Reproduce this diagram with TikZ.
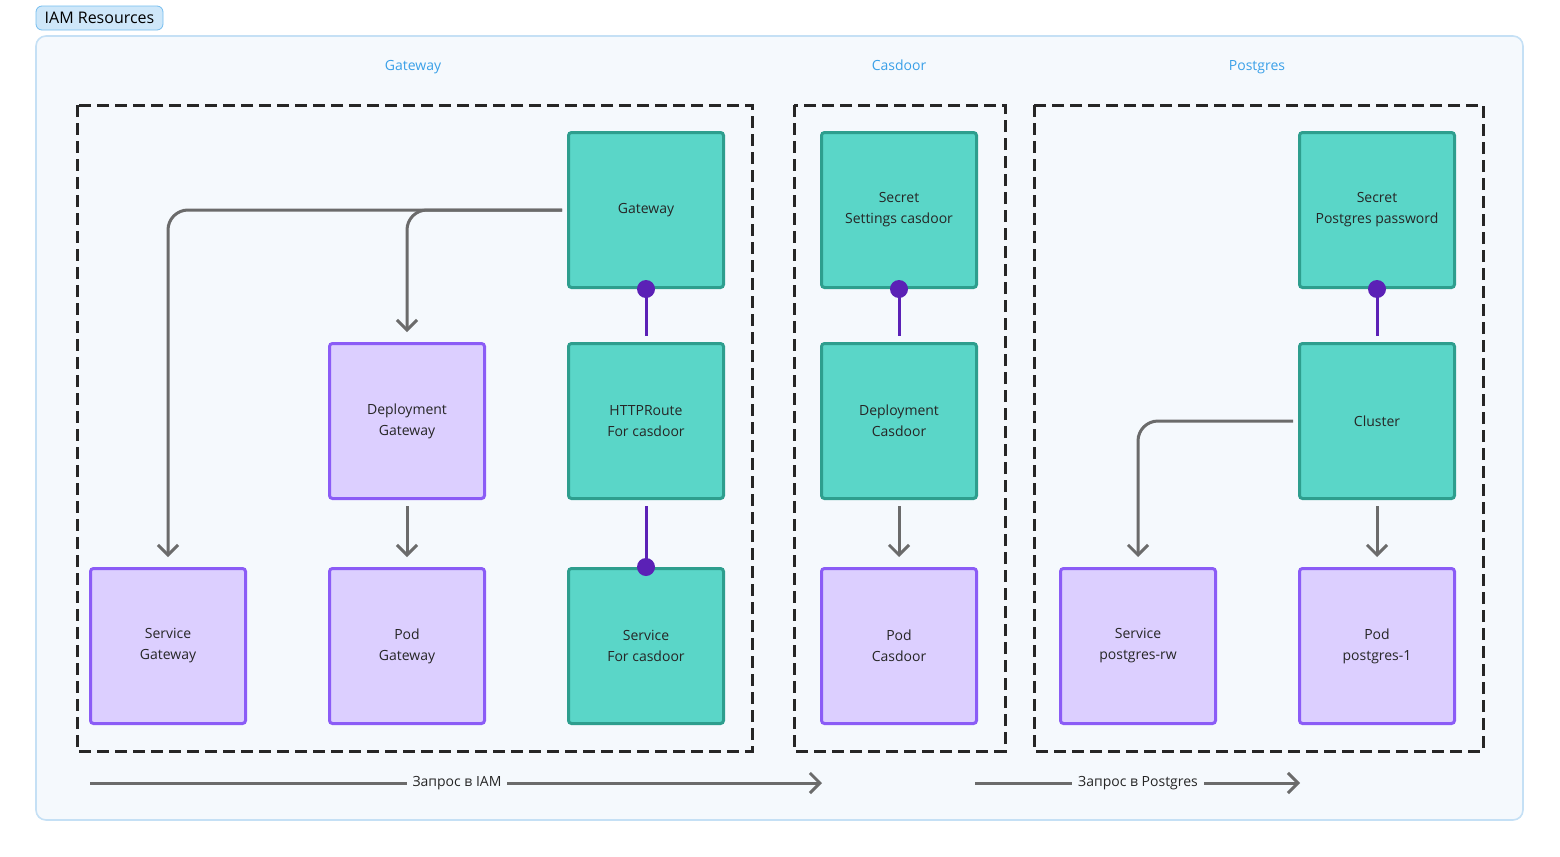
\documentclass[tikz,border=0pt]{standalone}
\usepackage{fontspec}
\setmainfont{Open Sans}
\usetikzlibrary{arrows.meta}
\definecolor{tealf}{HTML}{5AD6C8}
\definecolor{teald}{HTML}{2E9E8E}
\definecolor{purf}{HTML}{DCCFFF}
\definecolor{purd}{HTML}{8B5CF6}
\definecolor{conn}{HTML}{6B6B6B}
\definecolor{dotc}{HTML}{5B21B6}
\definecolor{bluet}{HTML}{3AA0E8}
\definecolor{bgc}{HTML}{F5F9FD}
\definecolor{bgb}{HTML}{C5E0F5}
\begin{document}
\begin{tikzpicture}[x=0.5pt,y=-0.5pt,
 box/.style={minimum width=77.5pt,minimum height=77.5pt,line width=1.5pt,rounded corners=1.5pt,align=center,font=\fontsize{7}{10.5}\selectfont,text=black!85},
 teal/.style={box,fill=tealf,draw=teald},
 pur/.style={box,fill=purf,draw=purd},
 arr/.style={draw=conn,line width=1.5pt,-{Straight Barb[length=5pt,width=10pt,line width=1.5pt]},rounded corners=10pt},
 lnk/.style={draw=dotc,line width=1.5pt},
 dt/.style={circle,fill=dotc,inner sep=0pt,minimum size=9pt},
 grp/.style={draw=black!85,line width=1.5pt,dash pattern=on 6pt off 3pt},
 gt/.style={text=bluet,font=\fontsize{7}{8}\selectfont,anchor=base},
 lb/.style={font=\fontsize{7}{8}\selectfont,fill=bgc,inner sep=3pt,text=black!85}]
\useasboundingbox (0,0) rectangle (1560,857);
\node[draw=bluet!70,fill=bluet!25,rounded corners=3pt,minimum width=63.5pt,minimum height=12pt,inner sep=0pt,font=\fontsize{8}{9}\selectfont] (iam) at (99.5,18) {IAM Resources};
\draw[draw=bgb,fill=bgc,line width=0.8pt,rounded corners=5pt] (36,36) rectangle (1523,820);
\node[gt] (tg) at (413,70) {Gateway};
\node[gt] (tc) at (899,70) {Casdoor};
\node[gt] (tp) at (1257,70) {Postgres};
\draw[grp] (77,105) rectangle (752,751);
\draw[grp] (794,105) rectangle (1005,751);
\draw[grp] (1034,105) rectangle (1483,751);
\node[teal] (gw) at (646,210) {Gateway};
\node[teal] (hr) at (646,421) {HTTPRoute\\For casdoor};
\node[teal] (sfc) at (646,646) {Service\\For casdoor};
\node[pur] (dg) at (407,421) {Deployment\\Gateway};
\node[pur] (sg) at (168,646) {Service\\Gateway};
\node[pur] (pg) at (407,646) {Pod\\Gateway};
\node[teal] (ss) at (899,210) {Secret\\Settings casdoor};
\node[teal] (dc) at (899,421) {Deployment\\Casdoor};
\node[pur] (pc) at (899,646) {Pod\\Casdoor};
\node[teal] (sp) at (1377,210) {Secret\\Postgres password};
\node[teal] (cl) at (1377,421) {Cluster};
\node[pur] (srw) at (1138,646) {Service\\postgres-rw};
\node[pur] (pp) at (1377,646) {Pod\\postgres-1};
% arrows
\draw[arr] ([xshift=-2.5pt]gw.west) -| ([yshift=5pt]sg.north);
\draw[arr] ([xshift=-2.5pt]gw.west) -| ([yshift=5pt]dg.north);
\draw[arr] ([yshift=-3pt]dg.south) -- ([yshift=5pt]pg.north);
\draw[arr] ([yshift=-3pt]dc.south) -- ([yshift=5pt]pc.north);
\draw[arr] ([yshift=-3pt]cl.south) -- ([yshift=5pt]pp.north);
\draw[arr] ([xshift=-2.5pt]cl.west) -| ([yshift=5pt]srw.north);
% links
\draw[lnk] (gw.south) -- ([yshift=3pt]hr.north);
\node[dt] (d1) at (gw.south) {};
\draw[lnk] ([yshift=-3pt]hr.south) -- (sfc.north);
\node[dt] (d2) at (sfc.north) {};
\draw[lnk] (ss.south) -- ([yshift=3pt]dc.north);
\node[dt] (d3) at (ss.south) {};
\draw[lnk] (sp.south) -- ([yshift=3pt]cl.north);
\node[dt] (d4) at (sp.south) {};
% bottom
\coordinate (a1) at (90,783); \coordinate (a2) at (822,783);
\coordinate (b1) at (975,783); \coordinate (b2) at (1300,783);
\draw[arr] (a1) -- (a2);
\draw[arr] (b1) -- (b2);
\node[lb] (l1) at (457,783) {Запрос в IAM};
\node[lb] (l2) at (1138,783) {Запрос в Postgres};
\end{tikzpicture}
\end{document}
